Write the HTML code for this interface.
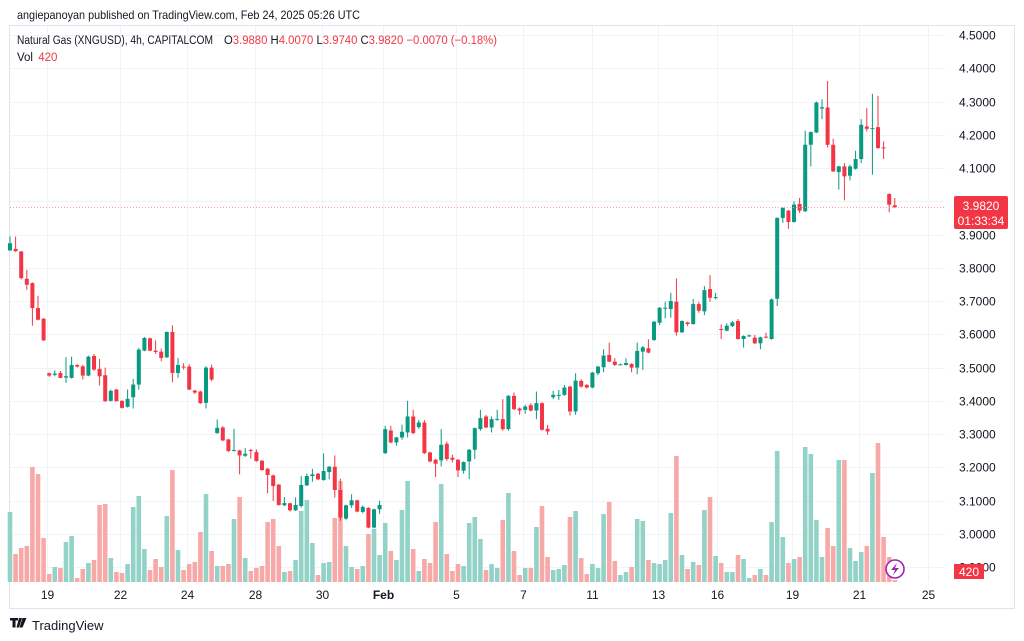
<!DOCTYPE html>
<html><head><meta charset="utf-8"><style>
html,body{margin:0;padding:0;background:#fff;}
body{width:1024px;height:641px;overflow:hidden;position:relative;font-family:"Liberation Sans",sans-serif;}
svg{position:absolute;left:0;top:0;}
</style></head><body>
<svg id="chart" width="1024" height="641" viewBox="0 0 1024 641" xmlns="http://www.w3.org/2000/svg">
<text x="17" y="19" font-size="12" fill="#131722" textLength="343" lengthAdjust="spacingAndGlyphs">angiepanoyan published on TradingView.com, Feb 24, 2025 05:26 UTC</text>
<rect x="9.5" y="25.5" width="1005" height="583" fill="none" stroke="#e0e3eb"/>
<g id="grid"></g>
<g id="vol"></g>
<g id="candles"></g>
<line x1="10" x2="945" y1="207.5" y2="207.5" stroke="#f7a0a6" stroke-dasharray="1,2"/>
<g id="yaxis"></g>
<g id="xaxis"></g>
<g font-size="11.5">
<text x="17" y="44" fill="#131722" textLength="196" lengthAdjust="spacingAndGlyphs">Natural Gas (XNGUSD), 4h, CAPITALCOM</text>
<text x="224" y="44" fill="#131722" textLength="273" lengthAdjust="spacingAndGlyphs">O<tspan fill="#f23645">3.9880</tspan>  H<tspan fill="#f23645">4.0070</tspan>  L<tspan fill="#f23645">3.9740</tspan>  C<tspan fill="#f23645">3.9820</tspan>  <tspan fill="#f23645">−0.0070 (−0.18%)</tspan></text>
<text x="17" y="61" fill="#131722">Vol <tspan fill="#f23645" dx="2">420</tspan></text>
</g>
<g>
<rect x="954" y="196" width="54" height="33" rx="2" fill="#f23645"/>
<text x="981" y="210" font-size="12" fill="#fff" text-anchor="middle">3.9820</text>
<text x="981" y="225" font-size="12" fill="#fff" text-anchor="middle">01:33:34</text>
</g>
<g>
<rect x="954" y="564" width="30" height="15" fill="#f23645"/>
<text x="969" y="576" font-size="12" fill="#fff" text-anchor="middle">420</text>
</g>
<g>
<circle cx="895" cy="569" r="9" fill="#fff" stroke="#9c27b0" stroke-width="1.6"/>
<path d="M897 563 L891 570 L895 570 L893 575 L899 568 L895 568 Z" fill="#9c27b0"/>
</g>
<g>
<path d="M10 618 h8 v2.5 h-2.5 v7 h-3 v-7 h-2.5 Z M19 618 h3 l-3 9.5 h-2.5 Z M22.5 618 h4 l-4 9.5 h-3 Z" fill="#131722"/>
<text x="32" y="630" font-size="13" fill="#131722">TradingView</text>
</g>
</svg>
<script>
const opens=[3.852,3.857,3.849,3.767,3.754,3.679,3.647,3.483,3.478,3.484,3.470,3.469,3.508,3.504,3.476,3.535,3.496,3.477,3.400,3.434,3.400,3.382,3.411,3.449,3.551,3.588,3.551,3.548,3.531,3.607,3.484,3.503,3.503,3.431,3.428,3.394,3.500,3.303,3.320,3.284,3.249,3.251,3.235,3.252,3.246,3.220,3.196,3.176,3.148,3.086,3.092,3.071,3.084,3.146,3.174,3.181,3.162,3.186,3.202,3.132,3.046,3.086,3.101,3.066,3.078,3.019,3.074,3.243,3.311,3.275,3.290,3.305,3.353,3.321,3.335,3.245,3.223,3.221,3.271,3.229,3.223,3.190,3.218,3.253,3.315,3.353,3.320,3.344,3.345,3.315,3.415,3.377,3.373,3.387,3.371,3.393,3.316,3.411,3.416,3.418,3.443,3.368,3.460,3.448,3.440,3.483,3.501,3.538,3.518,3.509,3.508,3.511,3.500,3.548,3.558,3.583,3.635,3.677,3.676,3.698,3.606,3.636,3.631,3.691,3.669,3.736,3.709,3.616,3.611,3.625,3.640,3.586,3.595,3.590,3.573,3.593,3.586,3.707,3.950,3.972,3.938,3.992,3.970,4.170,4.207,4.279,4.282,4.170,4.088,4.105,4.077,4.098,4.127,4.225,4.217,4.223,4.162,4.022,3.988];
const highs=[3.894,3.894,3.851,3.794,3.756,3.716,3.649,3.485,3.492,3.490,3.531,3.533,3.510,3.508,3.536,3.541,3.526,3.500,3.434,3.436,3.402,3.434,3.466,3.559,3.592,3.590,3.582,3.557,3.609,3.627,3.529,3.513,3.510,3.433,3.430,3.504,3.509,3.344,3.324,3.286,3.316,3.253,3.258,3.256,3.254,3.222,3.198,3.178,3.150,3.111,3.094,3.110,3.174,3.181,3.196,3.183,3.242,3.204,3.236,3.166,3.088,3.119,3.103,3.086,3.080,3.076,3.100,3.325,3.325,3.292,3.328,3.400,3.373,3.343,3.343,3.247,3.225,3.315,3.278,3.238,3.225,3.218,3.255,3.320,3.373,3.358,3.353,3.373,3.405,3.418,3.425,3.380,3.388,3.393,3.428,3.396,3.328,3.430,3.433,3.448,3.445,3.483,3.465,3.450,3.487,3.505,3.555,3.575,3.528,3.512,3.528,3.513,3.575,3.565,3.585,3.640,3.682,3.698,3.725,3.768,3.642,3.638,3.706,3.698,3.745,3.778,3.725,3.630,3.633,3.640,3.646,3.597,3.599,3.598,3.593,3.605,3.708,3.952,3.982,3.974,4.000,4.010,4.212,4.210,4.300,4.307,4.362,4.188,4.107,4.115,4.110,4.152,4.247,4.280,4.323,4.317,4.180,4.024,4.010];
const lows=[3.852,3.848,3.765,3.734,3.626,3.642,3.580,3.472,3.474,3.468,3.454,3.467,3.500,3.464,3.474,3.490,3.446,3.397,3.398,3.398,3.377,3.380,3.377,3.434,3.549,3.549,3.541,3.519,3.529,3.456,3.469,3.494,3.432,3.421,3.391,3.377,3.459,3.301,3.279,3.247,3.248,3.179,3.231,3.226,3.217,3.190,3.122,3.099,3.085,3.084,3.067,3.069,3.079,3.144,3.157,3.162,3.160,3.164,3.109,3.039,3.042,3.078,3.065,3.062,3.017,3.017,3.060,3.240,3.272,3.265,3.283,3.290,3.300,3.315,3.240,3.215,3.171,3.203,3.220,3.215,3.171,3.181,3.165,3.225,3.310,3.318,3.305,3.340,3.310,3.310,3.372,3.358,3.361,3.368,3.345,3.310,3.298,3.405,3.403,3.415,3.356,3.358,3.440,3.437,3.438,3.477,3.486,3.516,3.505,3.507,3.506,3.486,3.480,3.493,3.543,3.580,3.628,3.648,3.650,3.596,3.604,3.625,3.629,3.665,3.658,3.698,3.705,3.586,3.609,3.622,3.584,3.560,3.592,3.571,3.555,3.588,3.584,3.685,3.935,3.917,3.936,3.965,3.968,4.105,4.205,4.247,4.162,4.088,4.035,4.003,4.063,4.095,4.115,4.210,4.080,4.158,4.127,3.967,3.980];
const closes=[3.874,3.850,3.769,3.749,3.679,3.644,3.582,3.476,3.482,3.469,3.474,3.508,3.503,3.476,3.533,3.494,3.474,3.399,3.430,3.399,3.379,3.406,3.449,3.554,3.589,3.551,3.547,3.529,3.607,3.484,3.508,3.500,3.434,3.425,3.393,3.500,3.464,3.319,3.281,3.249,3.252,3.236,3.241,3.249,3.219,3.192,3.177,3.144,3.087,3.093,3.071,3.087,3.147,3.174,3.179,3.164,3.189,3.202,3.132,3.049,3.086,3.101,3.067,3.081,3.019,3.074,3.087,3.315,3.275,3.290,3.307,3.353,3.303,3.335,3.243,3.218,3.211,3.268,3.225,3.223,3.191,3.216,3.253,3.318,3.348,3.320,3.345,3.346,3.315,3.415,3.375,3.371,3.383,3.371,3.393,3.313,3.308,3.418,3.418,3.440,3.368,3.461,3.443,3.440,3.485,3.503,3.536,3.518,3.508,3.510,3.514,3.500,3.550,3.561,3.545,3.638,3.680,3.680,3.700,3.606,3.640,3.631,3.691,3.671,3.733,3.710,3.712,3.613,3.626,3.636,3.586,3.595,3.597,3.573,3.591,3.590,3.705,3.950,3.980,3.938,3.990,3.972,4.170,4.208,4.297,4.283,4.170,4.090,4.105,4.075,4.105,4.127,4.230,4.218,4.220,4.160,4.160,3.990,3.982];
const volumes=[70,28,34,36,115,108,44,8,15,14,40,46,4,13,19,22,77,78,24,10,9,18,75,86,33,12,23,15,66,112,32,12,18,20,50,88,31,16,16,18,63,85,24,11,14,16,60,63,36,10,11,22,71,82,39,7,19,20,64,101,36,15,13,16,48,53,27,59,31,22,72,101,33,11,23,19,60,98,28,11,18,16,59,65,43,12,18,14,62,89,31,7,14,14,55,76,25,12,13,17,65,71,24,8,18,14,68,80,21,7,10,15,63,61,22,19,18,22,69,126,27,13,20,17,72,85,26,19,10,10,27,23,4,7,13,7,60,131,45,19,23,25,135,128,62,25,54,36,122,122,34,21,30,36,109,139,45,25,2];
const priceTicks=[4.5,4.4,4.3,4.2,4.1,4.0,3.9,3.8,3.7,3.6,3.5,3.4,3.3,3.2,3.1,3.0,2.9];
const dateLabels=["19","22","24","28","30","Feb","5","7","11","13","16","19","21","25"];
const dateSlots=[6.6,19.6,31.6,43.8,55.7,66.6,79.6,91.6,103.9,115.7,126.3,139.6,151.6,163.9];

const NS="http://www.w3.org/2000/svg";
const GREEN="#089981",RED="#f23645",GV="#92d2c7",RV="#f7a9a7";
function yP(p){return 35+(4.5-p)*332.6;}
function xI(i){return 10+i*5.6;}
function yV(v){return 582-v*1.0;}
function mk(tag,attrs,parent){const e=document.createElementNS(NS,tag);for(const k in attrs)e.setAttribute(k,attrs[k]);parent.appendChild(e);return e;}
const grid=document.getElementById('grid'),vol=document.getElementById('vol'),cg=document.getElementById('candles'),ya=document.getElementById('yaxis'),xa=document.getElementById('xaxis');
priceTicks.forEach(p=>{
  const y=Math.round(yP(p))+0.5;
  const l=mk('line',{x1:10,x2:945,y1:y,y2:y,stroke:'#f0f3fa'},grid);
  
  
  const t=mk('text',{x:959,y:y+4,'font-size':12,fill:'#131722'},ya);
  t.textContent=p.toFixed(4);
  
  
});
dateLabels.forEach((d,k)=>{
  const x=Math.round(xI(dateSlots[k]))+0.5;
  const l=mk('line',{x1:x,x2:x,y1:26,y2:582,stroke:'#f0f3fa'},grid);
  
  
  const t=mk('text',{x:x,y:599,'font-size':12,fill:'#131722','text-anchor':'middle','font-weight':d==="Feb"?'bold':'normal'},xa);
  t.textContent=d;
  
  
});
volumes.forEach((v,i)=>{
  const up=closes[i]>=opens[i];
  const x=xI(i);
  const r=mk('rect',{x:x-2.3,y:yV(v),width:4.6,height:582-yV(v),fill:up?GV:RV},vol);
  
  
});
opens.forEach((o,i)=>{
  const c=closes[i],up=c>=o,col=up?GREEN:RED,x=xI(i);
  const w=mk('line',{x1:x,x2:x,y1:yP(highs[i]),y2:yP(lows[i]),stroke:col,'stroke-width':1},cg);
  
  
  const top=yP(Math.max(o,c)),h=Math.max(1,yP(Math.min(o,c))-top);
  const b=mk('rect',{x:x-2,y:top,width:4,height:h,fill:col},cg);
  
  
});
</script>
</body></html>
